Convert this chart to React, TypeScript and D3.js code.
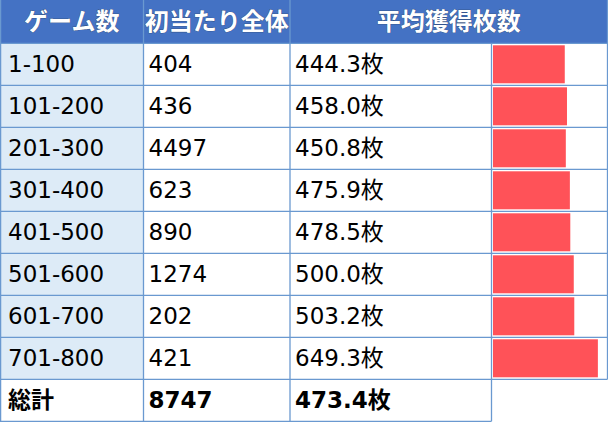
import React from 'react';
import * as d3 from 'd3';

// game count ranges, first-hit counts, average payout
const ranges = ['1-100', '101-200', '201-300', '301-400', '401-500', '501-600', '601-700', '701-800'];
const hits = [404, 436, 4497, 623, 890, 1274, 202, 421];
const avgCoins = [444.3, 458.0, 450.8, 475.9, 478.5, 500.0, 503.2, 649.3];
const headers = ['ゲーム数', '初当たり全体', '平均獲得枚数'];
const totalLabel = '総計';
const totalHits = 8747;
const totalAvg = 473.4;

const W = 608;
const H = 422;
const colX = [0, 143.5, 290, 491.5, 607.5];
const headerH = 43.3;
const borderColor = '#6a99d0';
const fontFamily = '"DejaVu Sans", "Noto Sans CJK JP", sans-serif';

const App: React.FC = () => {
  const rowKeys = [...ranges, 'total'];
  const y = d3.scaleBand<string>().domain(rowKeys).range([headerH, 421.3]).padding(0);
  const barCellW = colX[4] - colX[3];
  const x = d3.scaleLinear()
    .domain([0, d3.max(avgCoins) as number])
    .range([0, (barCellW - 2) * 0.92]);
  const bh = y.bandwidth();

  const textY = (key: string) => (y(key) as number) + bh / 2 + 7.3;

  return (
    <svg width={W} height={H} style={{ position: 'absolute', left: 0, top: 0, display: 'block' }}>
      <rect width={W} height={H} fill="#fff" />
      {/* header */}
      <rect x={0} y={0} width={colX[4]} height={headerH} fill="#4472c4" />
      {/* first column background */}
      {ranges.map((r) => (
        <rect key={'bg' + r} x={0} y={y(r)} width={colX[1]} height={bh} fill="#ddebf7" />
      ))}
      {/* bars */}
      {ranges.map((r, i) => (
        <rect
          key={'bar' + r}
          x={colX[3] + 1.5}
          y={(y(r) as number) + 2}
          width={x(avgCoins[i])}
          height={bh - 4}
          fill="#ff5258"
        />
      ))}
      {/* grid lines */}
      <g stroke={borderColor} strokeWidth={1.3} fill="none">
        {[headerH, ...rowKeys.map((k) => (y(k) as number) + bh)].map((yy, i) => (
          <line
            key={'h' + i}
            x1={0}
            x2={i >= rowKeys.length - 1 ? colX[3] : colX[4]}
            y1={yy}
            y2={yy}
          />
        ))}
        <line x1={colX[3]} x2={colX[4]} y1={(y('total') as number)} y2={(y('total') as number)} />
        {colX.map((cx, i) => (
          <line
            key={'v' + i}
            x1={i === 0 ? 0.6 : cx}
            x2={i === 0 ? 0.6 : cx}
            y1={i === 3 ? headerH : 0}
            y2={i === 4 ? (y('total') as number) : 421.3}
          />
        ))}
      </g>
      {/* header labels */}
      <g fill="#fff" fontWeight="bold" fontSize={24} fontFamily='"Noto Sans CJK JP", sans-serif' textAnchor="middle"
        style={{ paintOrder: 'stroke' }} stroke="#2a3f66" strokeWidth={0.6}>
        <text x={(colX[0] + colX[1]) / 2} y={headerH / 2 + 8.5}>{headers[0]}</text>
        <text x={(colX[1] + colX[2]) / 2} y={headerH / 2 + 8.5}>{headers[1]}</text>
        <text x={(colX[2] + colX[4]) / 2} y={headerH / 2 + 8.5}>{headers[2]}</text>
      </g>
      {/* body text */}
      <g fill="#000" fontSize={23} fontFamily={fontFamily}>
        {ranges.map((r, i) => (
          <g key={'t' + r}>
            <text x={colX[0] + 8} y={textY(r)}>{r}</text>
            <text x={colX[1] + 5} y={textY(r)}>{hits[i]}</text>
            <text x={colX[2] + 5} y={textY(r)}>{avgCoins[i].toFixed(1)}枚</text>
          </g>
        ))}
        <g fontWeight="bold">
          <text x={colX[0] + 8} y={textY('total')}>{totalLabel}</text>
          <text x={colX[1] + 5} y={textY('total')}>{totalHits}</text>
          <text x={colX[2] + 5} y={textY('total')}>{totalAvg.toFixed(1)}枚</text>
        </g>
      </g>
    </svg>
  );
};

export default App;
